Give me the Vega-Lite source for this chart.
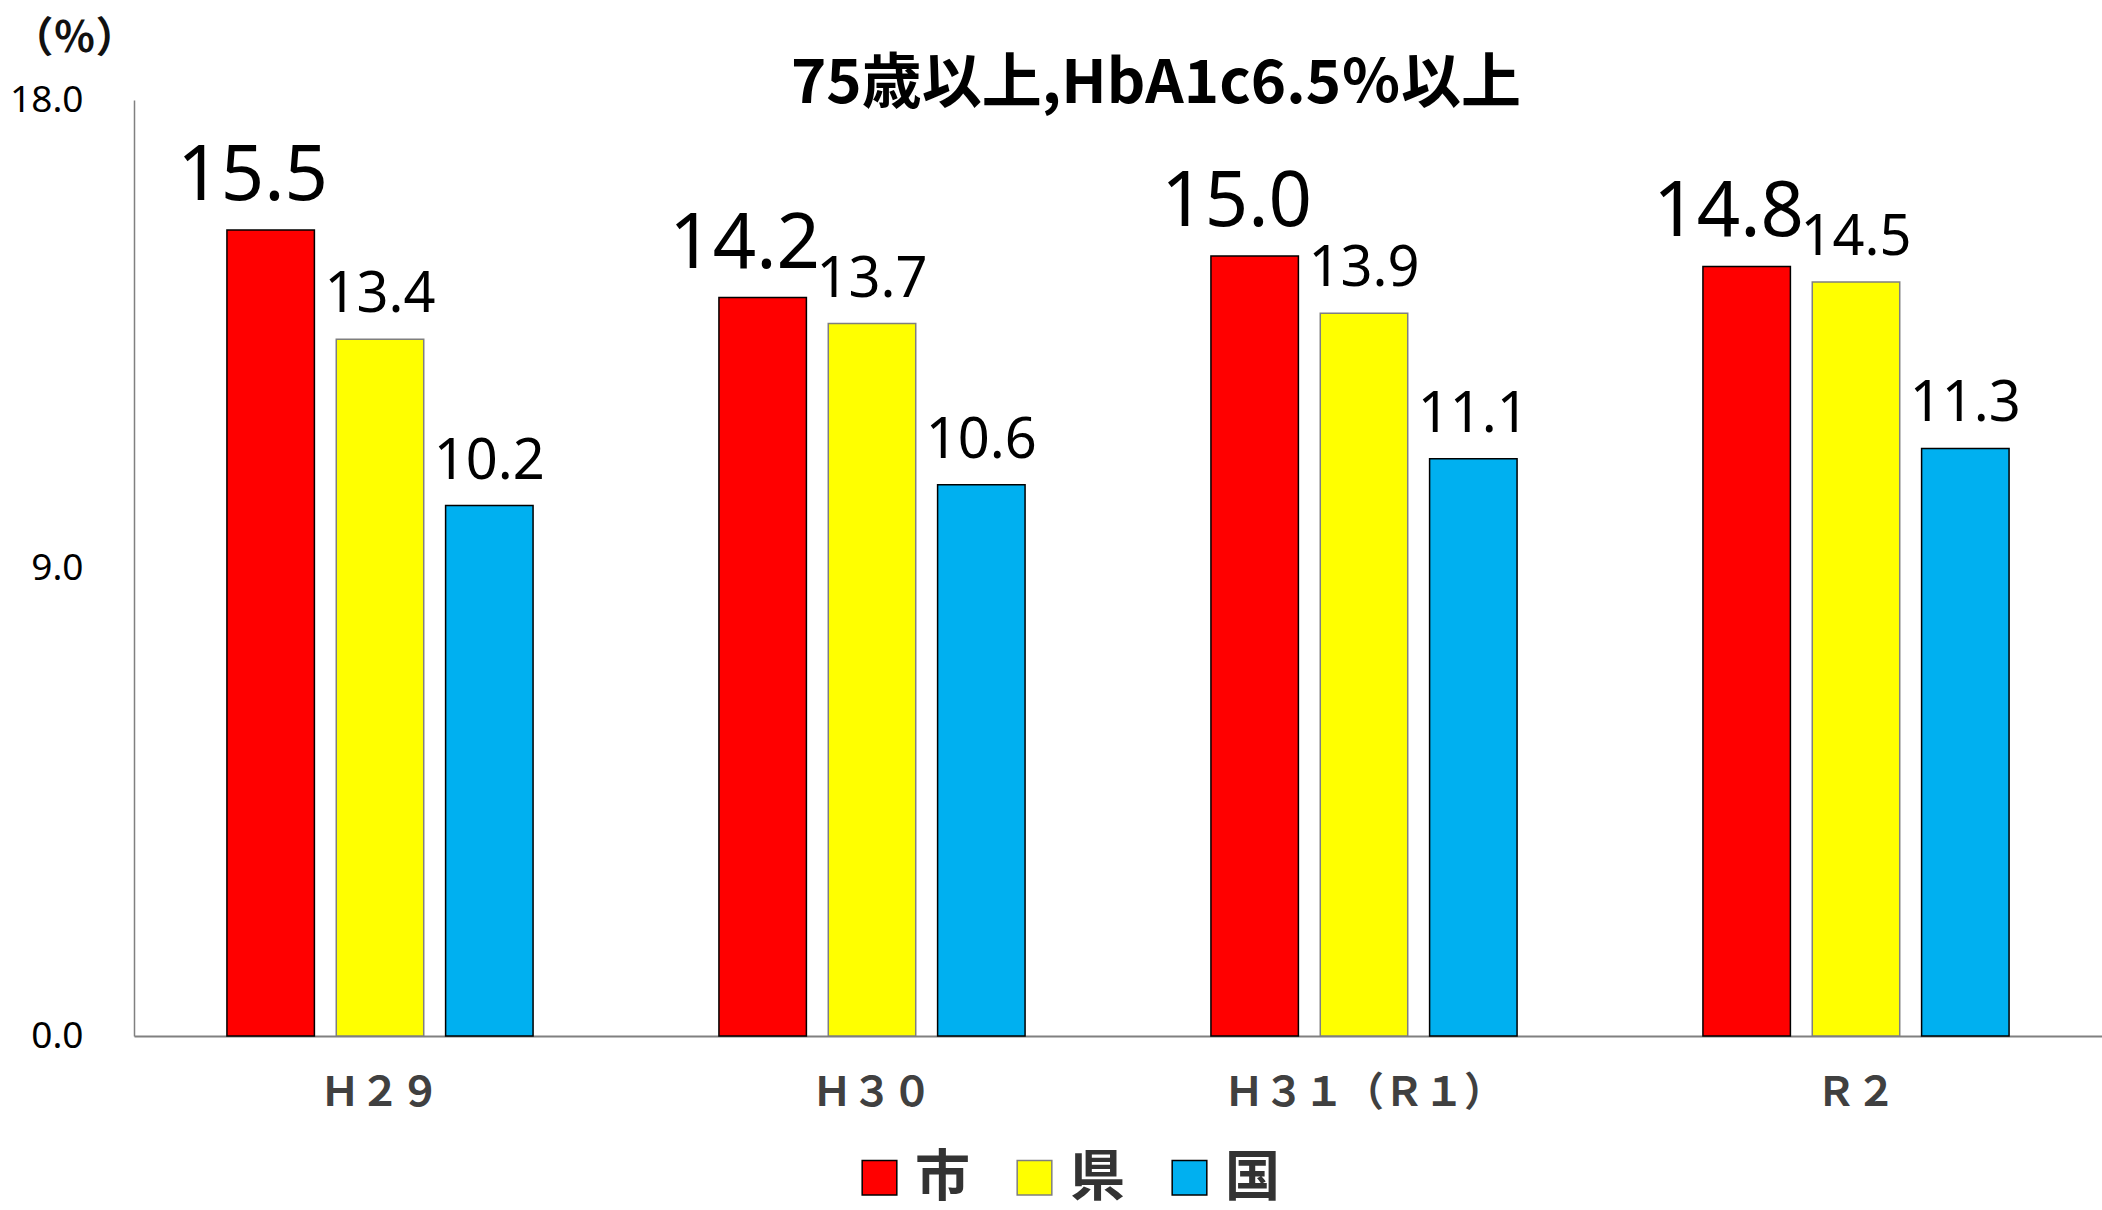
{
  "$schema": "https://vega.github.io/schema/vega-lite/v6.json",
  "width": 1968,
  "height": 936,
  "autosize": {"type": "none"},
  "padding": {"left": 134, "top": 100, "right": 0, "bottom": 174},
  "background": "white",
  "config": {"view": {"stroke": null}},
  "title": {
    "text": "75歳以上,HbA1c6.5％以上",
    "font": "Noto Sans CJK JP",
    "fontSize": 60,
    "fontWeight": "bold",
    "color": "black",
    "anchor": "middle",
    "frame": "group",
    "dx": 38,
    "offset": -146,
    "baseline": "alphabetic"
  },
  "data": {
    "values": [
      {"year": "Ｈ２９", "series": "市", "value": 15.5},
      {"year": "Ｈ２９", "series": "県", "value": 13.4},
      {"year": "Ｈ２９", "series": "国", "value": 10.2},
      {"year": "Ｈ３０", "series": "市", "value": 14.2},
      {"year": "Ｈ３０", "series": "県", "value": 13.7},
      {"year": "Ｈ３０", "series": "国", "value": 10.6},
      {"year": "Ｈ３１（Ｒ１）", "series": "市", "value": 15.0},
      {"year": "Ｈ３１（Ｒ１）", "series": "県", "value": 13.9},
      {"year": "Ｈ３１（Ｒ１）", "series": "国", "value": 11.1},
      {"year": "Ｒ２", "series": "市", "value": 14.8},
      {"year": "Ｒ２", "series": "県", "value": 14.5},
      {"year": "Ｒ２", "series": "国", "value": 11.3}
    ]
  },
  "encoding": {
    "x": {
      "field": "year",
      "type": "nominal",
      "sort": ["Ｈ２９", "Ｈ３０", "Ｈ３１（Ｒ１）", "Ｒ２"],
      "scale": {"paddingInner": 0, "paddingOuter": 0},
      "axis": {
        "title": null,
        "labelAngle": 0,
        "labelLimit": 0,
        "labelFont": "Noto Sans CJK JP",
        "labelFontSize": 40,
        "labelFontWeight": "bold",
        "labelColor": "#404040",
        "labelPadding": 37,
        "ticks": false,
        "tickSize": 0,
        "grid": false,
        "domainColor": "#808080",
        "domainWidth": 2
      }
    },
    "xOffset": {
      "field": "series",
      "type": "nominal",
      "sort": ["市", "県", "国"],
      "scale": {"paddingInner": 0.2, "paddingOuter": 0.85}
    },
    "y": {
      "field": "value",
      "type": "quantitative",
      "scale": {"domain": [0, 18]},
      "axis": {
        "values": [0, 9, 18],
        "format": ".1f",
        "labelFont": "Noto Sans",
        "labelFontSize": 37,
        "labelColor": "black",
        "labelPadding": 51,
        "labelFlush": false,
        "ticks": false,
        "tickSize": 0,
        "grid": false,
        "domainColor": "#808080",
        "domainWidth": 1.5,
        "title": "（％）",
        "titleAngle": 0,
        "titleX": -60,
        "titleY": -62,
        "titleAlign": "center",
        "titleBaseline": "middle",
        "titleFont": "Noto Sans CJK JP",
        "titleFontSize": 42,
        "titleFontWeight": "bold",
        "titleColor": "#111111"
      }
    }
  },
  "layer": [
    {
      "mark": {"type": "bar", "strokeWidth": 1.5},
      "encoding": {
        "color": {
          "field": "series",
          "type": "nominal",
          "scale": {"domain": ["市", "県", "国"], "range": ["#FF0000", "#FFFF00", "#00B0F0"]},
          "legend": {
            "orient": "none",
            "legendX": 718,
            "legendY": 1050,
            "direction": "horizontal",
            "title": null,
            "symbolType": "square",
            "symbolSize": 1200,
            "symbolStrokeColor": "black",
            "symbolStrokeWidth": 1.5,
            "labelFont": "Noto Sans CJK JP",
            "labelFontSize": 55,
            "labelFontWeight": "bold",
            "labelColor": "#333333",
            "labelOffset": 8,
            "columnPadding": 36,
            "padding": 0
          }
        },
        "stroke": {
          "field": "series",
          "type": "nominal",
          "scale": {"domain": ["市", "県", "国"], "range": ["#000000", "#7F7F7F", "#000000"]},
          "legend": null
        }
      }
    },
    {
      "transform": [{"filter": "datum.series === '市'"}],
      "mark": {"type": "text", "font": "Noto Sans", "fontSize": 76, "color": "black", "baseline": "alphabetic", "dy": -30, "dx": -18},
      "encoding": {"text": {"field": "value", "type": "quantitative", "format": ".1f"}}
    },
    {
      "transform": [{"filter": "datum.series !== '市'"}],
      "mark": {"type": "text", "font": "Noto Sans", "fontSize": 56, "color": "black", "baseline": "alphabetic", "dy": -27},
      "encoding": {"text": {"field": "value", "type": "quantitative", "format": ".1f"}}
    }
  ]
}
